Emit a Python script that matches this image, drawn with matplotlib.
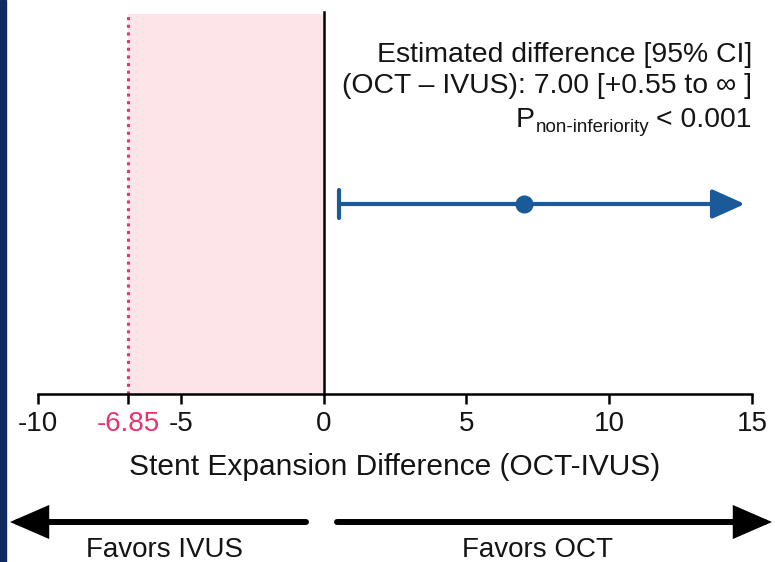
import matplotlib
matplotlib.use("Agg")
import matplotlib.pyplot as plt
from matplotlib.patches import Rectangle, FancyArrowPatch

plt.rcParams['font.family'] = ['Liberation Sans', 'DejaVu Sans']

# data
ticks = [-10, -5, 0, 5, 10, 15]
margin = -6.85
estimate = 7.00
ci_low = 0.55
ci_arrow_end = 14.75
xlabel = 'Stent Expansion Difference (OCT-IVUS)'
note_lines = ['Estimated difference [95% CI]', '(OCT \u2013 IVUS): 7.00 [+0.55 to \u221e ]']

W, H = 775, 562
fig = plt.figure(figsize=(W / 100, H / 100), dpi=100)

def fx(x):
    return x / W

def fy(y):
    return 1 - y / H

blue = '#1b5a98'
red = '#e8336b'
txt = '#141414'

ax = fig.add_axes([fx(38), fy(394), (752 - 38) / W, (394 - 14) / H])
ax.set_xlim(-10, 15)
ax.set_ylim(0, 1)
for s in ['top', 'right', 'left']:
    ax.spines[s].set_visible(False)
ax.spines['bottom'].set_linewidth(1.8)
ax.set_yticks([])

ax.axvspan(margin, 0, color='#fde4e9', lw=0)
ax.axvline(margin, color=red, ls=(0, (1, 1.5)), lw=2.2)
ax.axvline(0, color='black', lw=1.8, ymax=1.005, clip_on=False)

# estimate and CI
ax.annotate('', xy=(ci_arrow_end, 0.5), xytext=(ci_low, 0.5),
            arrowprops=dict(arrowstyle='-|>,head_length=2.0,head_width=0.9',
                            color=blue, lw=3, shrinkA=0, shrinkB=0))
ax.plot([ci_low, ci_low], [0.463, 0.537], color=blue, lw=3, solid_capstyle='round')
ax.plot([estimate], [0.5], 'o', color=blue, ms=12)

ax.set_xticks(ticks + [margin])
ax.set_xticklabels([str(t) for t in ticks] + ['-6.85'])
ax.tick_params(axis='x', direction='out', length=7, width=1.8, labelsize=20,
               pad=5, labelcolor=txt)
ax.get_xticklabels()[-1].set_color(red)

fig.text(fx(395), fy(475), xlabel, ha='center', va='baseline', fontsize=21.5, color=txt)

# annotation text
fig.text(fx(752), fy(62), note_lines[0], ha='right', va='baseline', fontsize=20.4, color=txt)
fig.text(fx(752), fy(93), note_lines[1], ha='right', va='baseline', fontsize=20.4, color=txt)
t3 = fig.text(fx(752), fy(127), '< 0.001', ha='right', va='baseline', fontsize=20.4, color=txt)
r = fig.canvas.get_renderer()
bb = t3.get_window_extent(r)
t2 = fig.text(bb.x0 / W - fx(7), fy(132), 'non-inferiority', ha='right', va='baseline',
              fontsize=13.5, color=txt)
bb2 = t2.get_window_extent(r)
fig.text(bb2.x0 / W - fx(1), fy(127), 'P', ha='right', va='baseline', fontsize=20.4, color=txt)

# favors arrows
fig.patches.append(Rectangle((0, 0), fx(6), 1, transform=fig.transFigure,
                             color='#0f2b60', zorder=10))
style = '-|>,head_length=1.15,head_width=0.5'
fig.add_artist(FancyArrowPatch((fx(306), fy(522)), (fx(10), fy(522)),
                               transform=fig.transFigure, arrowstyle=style,
                               color='black', lw=4.3, shrinkA=0, shrinkB=0,
                               mutation_scale=18, joinstyle='miter'))
fig.add_artist(FancyArrowPatch((fx(337), fy(522)), (fx(772), fy(522)),
                               transform=fig.transFigure, arrowstyle=style,
                               color='black', lw=4.3, shrinkA=0, shrinkB=0,
                               mutation_scale=18, joinstyle='miter'))
fig.text(fx(165), fy(557), 'Favors IVUS', ha='center', va='baseline', fontsize=20, color=txt)
fig.text(fx(537), fy(557), 'Favors OCT', ha='center', va='baseline', fontsize=20, color=txt)

fig.savefig('out.png', dpi=100)
